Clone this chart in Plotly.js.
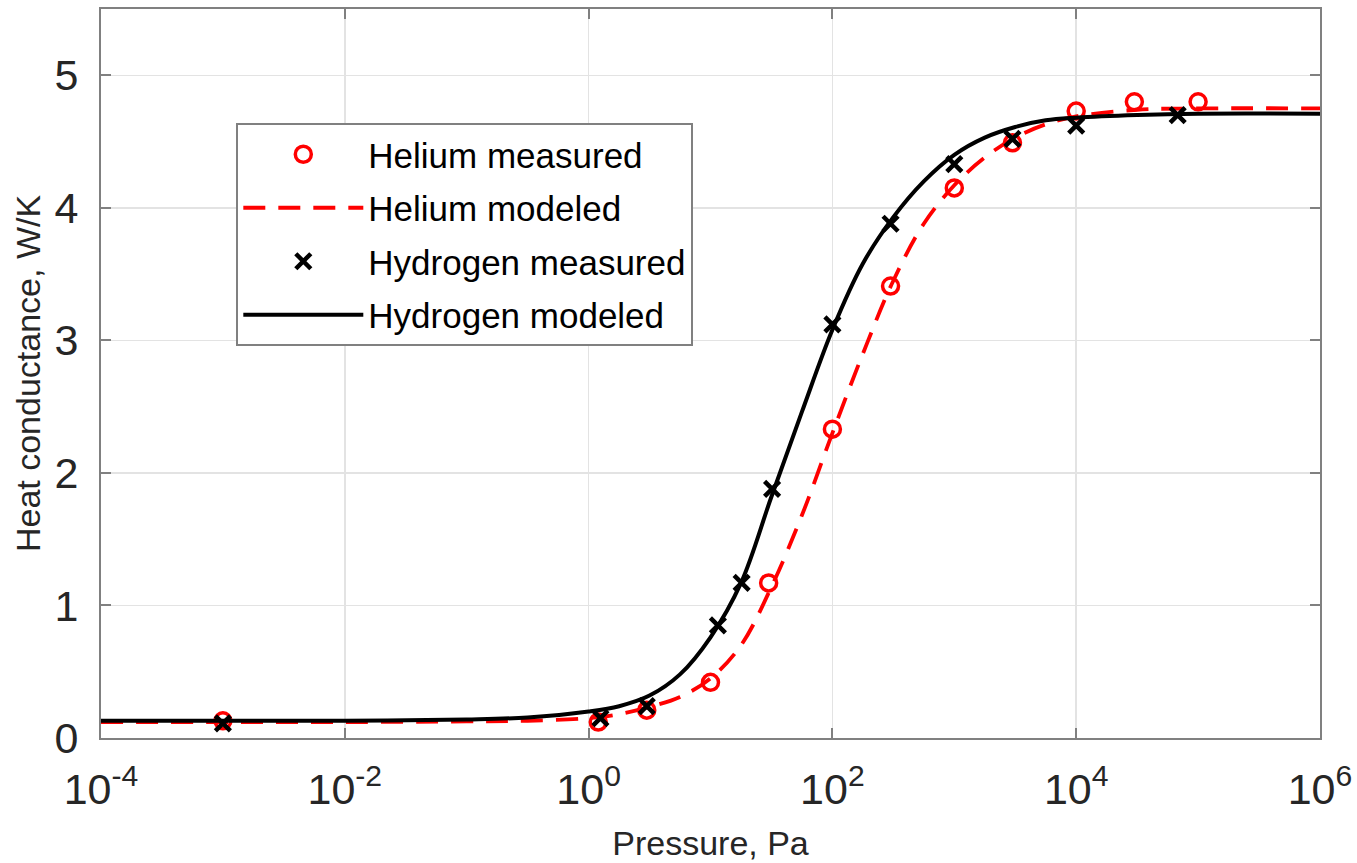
<!DOCTYPE html>
<html>
<head>
<meta charset="utf-8">
<script src="https://cdn.plot.ly/plotly-3.0.1.min.js"></script>
<style>html,body{margin:0;padding:0;background:#fff;}#chart{width:1357px;height:863px;}</style>
</head>
<body>
<div id="chart"></div>
<script>
// Measured data
const heliumMeasX = [0.001, 1.2, 3, 10, 30, 100, 300, 1000, 3000, 10000, 30000, 100000];
const heliumMeasY = [0.13, 0.12, 0.21, 0.42, 1.17, 2.33, 3.41, 4.15, 4.49, 4.73, 4.80, 4.80];
const hydrogenMeasX = [0.001, 1.25, 3, 11.5, 18, 32, 100, 300, 1000, 3000, 10000, 68000];
const hydrogenMeasY = [0.11, 0.15, 0.24, 0.85, 1.17, 1.88, 3.12, 3.88, 4.33, 4.52, 4.62, 4.70];

// Modeled curves
const heliumModX = [0.0001, 0.001, 0.01, 0.1, 0.316, 1, 1.78, 3.16, 5.62, 10, 17.8, 31.6, 56.2, 100, 178, 316, 562, 1000, 1778, 3162, 5623, 10000, 31623, 100000, 1000000];
const heliumModY = [0.12, 0.12, 0.12, 0.125, 0.13, 0.15, 0.18, 0.235, 0.31, 0.45, 0.70, 1.14, 1.68, 2.30, 2.90, 3.45, 3.88, 4.17, 4.38, 4.53, 4.63, 4.69, 4.74, 4.75, 4.75];
const hydrogenModX = [0.0001, 0.001, 0.01, 0.1, 0.316, 1, 1.78, 3.16, 5.62, 10, 17.8, 31.6, 56.2, 100, 178, 316, 562, 1000, 1778, 3162, 5623, 10000, 31623, 100000, 1000000];
const hydrogenModY = [0.13, 0.13, 0.13, 0.14, 0.155, 0.20, 0.24, 0.32, 0.48, 0.76, 1.17, 1.82, 2.46, 3.08, 3.58, 3.93, 4.20, 4.40, 4.53, 4.61, 4.66, 4.68, 4.70, 4.71, 4.71];

// Axis ticks
const xTickVals = [1e-4, 1e-2, 1, 1e2, 1e4, 1e6];
const xTickText = ['10<sup>-4</sup>', '10<sup>-2</sup>', '10<sup>0</sup>', '10<sup>2</sup>', '10<sup>4</sup>', '10<sup>6</sup>'];
const yTickVals = [0, 1, 2, 3, 4, 5];

const FONT = 'Liberation Sans, Arial, Helvetica, sans-serif';

const traces = [
  {
    x: heliumMeasX, y: heliumMeasY, name: 'Helium measured', type: 'scatter', mode: 'markers',
    legendgroup: 'a',
    marker: {symbol: 'circle-open', size: 16, color: '#ff0000', line: {color: '#ff0000', width: 3.5}}
  },
  {
    x: heliumModX, y: heliumModY, name: 'Helium modeled', type: 'scatter', mode: 'lines',
    legendgroup: 'b',
    line: {color: '#ff0000', width: 3.8, dash: '22px,13px', shape: 'spline', smoothing: 1}
  },
  {
    x: hydrogenMeasX, y: hydrogenMeasY, name: 'Hydrogen measured', type: 'scatter', mode: 'markers',
    legendgroup: 'c',
    marker: {symbol: 'x-thin', size: 15, color: '#000000', line: {color: '#000000', width: 4.5}}
  },
  {
    x: hydrogenModX, y: hydrogenModY, name: 'Hydrogen modeled', type: 'scatter', mode: 'lines',
    legendgroup: 'd',
    line: {color: '#000000', width: 4, shape: 'spline', smoothing: 1}
  }
];

const axisCommon = {
  showline: true, linecolor: '#808080', linewidth: 2, mirror: 'ticks',
  ticks: 'inside', ticklen: 10, tickwidth: 2, tickcolor: '#808080',
  showgrid: true, gridcolor: '#e3e3e3', gridwidth: 1.5, zeroline: false,
  tickfont: {family: FONT, size: 43, color: '#262626'}
};

const layout = {
  width: 1357, height: 863,
  margin: {l: 101, r: 37, t: 9, b: 125},
  paper_bgcolor: '#ffffff', plot_bgcolor: '#ffffff',
  showlegend: true,
  legend: {
    x: 0.111, y: 0.8436, xanchor: 'left', yanchor: 'top',
    bgcolor: '#ffffff', bordercolor: '#808080', borderwidth: 2,
    font: {family: FONT, size: 35, color: '#000000'},
    traceorder: 'grouped', tracegroupgap: 5, itemwidth: 120,
    entrywidth: 370, entrywidthmode: 'pixels'
  },
  xaxis: Object.assign({}, axisCommon, {
    type: 'log', range: [-4, 6], tickmode: 'array', tickvals: xTickVals, ticktext: xTickText,
    ticklabelstandoff: 12,
    title: {text: 'Pressure, Pa', font: {family: FONT, size: 34, color: '#262626'}, standoff: 20}
  }),
  yaxis: Object.assign({}, axisCommon, {
    range: [0, 5.5], tickmode: 'array', tickvals: yTickVals,
    ticklabelstandoff: 12,
    title: {text: 'Heat conductance, W/K', font: {family: FONT, size: 34, color: '#262626'}, standoff: 4}
  })
};

Plotly.newPlot('chart', traces, layout, {displayModeBar: false, staticPlot: true});
</script>
</body>
</html>
